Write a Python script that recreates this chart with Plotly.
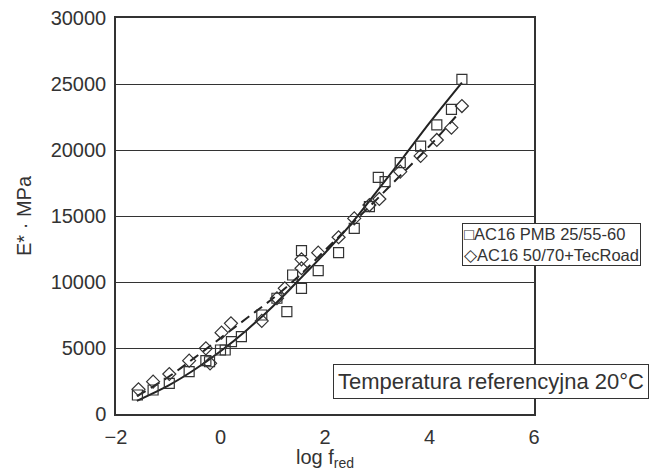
import plotly.graph_objects as go

# Measured points
pmb_x = [-1.59, -1.29, -0.98, -0.60, -0.28, -0.21, 0.00, 0.09, 0.21, 0.40, 0.79, 1.08, 1.27, 1.38,
         1.55, 1.55, 1.87, 2.26, 2.56, 2.85, 3.02, 3.15, 3.44, 3.83, 4.14, 4.42, 4.62]
pmb_y = [1440, 1820, 2320, 3210, 4040, 3960, 4850, 4850, 5480, 5860, 7500, 8770, 7750, 10530,
         12370, 9520, 10860, 12220, 14070, 15710, 17930, 17600, 19040, 20300, 21900, 23080, 25350]

tec_x = [-1.57, -1.29, -0.98, -0.60, -0.28, -0.20, 0.02, 0.20, 0.79, 1.08, 1.23, 1.55, 1.55,
         1.87, 2.26, 2.56, 2.85, 3.04, 3.44, 3.83, 4.14, 4.42, 4.62]
tec_y = [1870, 2450, 3030, 4040, 4975, 3840, 6160, 6870, 7050, 8770, 9520, 11040, 11720,
         12220, 13390, 14820, 15830, 16290, 18360, 19550, 20760, 21690, 23330]

# Fitted master curves
fit_pmb_x = [-1.6, -1.0, -0.5, 0.0, 0.5, 1.0, 1.5, 2.0, 2.5, 3.0, 3.5, 4.0, 4.62]
fit_pmb_y = [1000, 2150, 3350, 4750, 6350, 8150, 10150, 12200, 14400, 16900, 19450, 22050, 25100]

fit_tec_x = [-1.6, -1.0, -0.5, 0.0, 0.5, 1.0, 1.5, 2.0, 2.5, 3.0, 3.5, 4.0, 4.55]
fit_tec_y = [1350, 2800, 4250, 5750, 7250, 8750, 10450, 12400, 14350, 16300, 18300, 20300, 22750]

series_names = ["AC16 PMB 25/55-60", "AC16 50/70+TecRoad"]
x_ticks = [-2, 0, 2, 4, 6]
y_ticks = [0, 5000, 10000, 15000, 20000, 25000, 30000]

ink = "#333333"
fig = go.Figure()

fig.add_trace(go.Scatter(x=fit_pmb_x, y=fit_pmb_y, mode="lines",
                         line=dict(color="#222222", width=2, shape="spline", smoothing=1),
                         showlegend=False, hoverinfo="skip"))
fig.add_trace(go.Scatter(x=fit_tec_x, y=fit_tec_y, mode="lines",
                         line=dict(color="#222222", width=2, dash="10px,6px", shape="spline", smoothing=1),
                         showlegend=False, hoverinfo="skip"))
fig.add_trace(go.Scatter(x=pmb_x, y=pmb_y, mode="markers", name=series_names[0], showlegend=False,
                         marker=dict(symbol="square-open", size=10, color=ink, line=dict(width=1.2, color=ink))))
fig.add_trace(go.Scatter(x=tec_x, y=tec_y, mode="markers", name=series_names[1], showlegend=False,
                         marker=dict(symbol="diamond-open", size=10, color=ink, line=dict(width=1.2, color=ink))))

fig.update_layout(
    width=654, height=471,
    margin=dict(l=116, r=120, t=18, b=57),
    paper_bgcolor="white", plot_bgcolor="white",
    font=dict(family="Liberation Sans, Arial, sans-serif", color=ink, size=20),
    showlegend=False,
    xaxis=dict(range=[-2, 6], tickvals=x_ticks, ticktext=["\u22122", "0", "2", "4", "6"],
               showgrid=False, zeroline=False, showline=True, linecolor=ink, linewidth=1.5, mirror=True,
               ticks="", ticklabelstandoff=4, automargin=False,
               title=dict(text="log f<sub>red</sub>", standoff=2, font=dict(size=20))),
    yaxis=dict(range=[0, 30000], tickvals=y_ticks, showgrid=True, gridcolor=ink, gridwidth=1.3,
               zeroline=False, showline=True, linecolor=ink, linewidth=1.5, mirror=True,
               ticks="", tickformat="d", ticklabelstandoff=4, automargin=False,
               title=dict(text="E* · MPa", standoff=14, font=dict(size=20))),
    annotations=[
        dict(x=0.519, y=0.0833, xref="paper", yref="paper", xanchor="left", yanchor="middle",
             text="Temperatura referencyjna 20°C", showarrow=False,
             bordercolor=ink, borderwidth=1, bgcolor="white", borderpad=4,
             font=dict(size=22, color=ink)),
        dict(x=0.8278, y=0.429, xref="paper", yref="paper", xanchor="left", yanchor="middle",
             text="\u25a1" + series_names[0] + "<br>\u25c7" + series_names[1], align="left",
             showarrow=False, bordercolor=ink, borderwidth=1, bgcolor="white", borderpad=1,
             font=dict(size=16.5, color=ink)),
    ],
)

fig.write_html("out.html")
